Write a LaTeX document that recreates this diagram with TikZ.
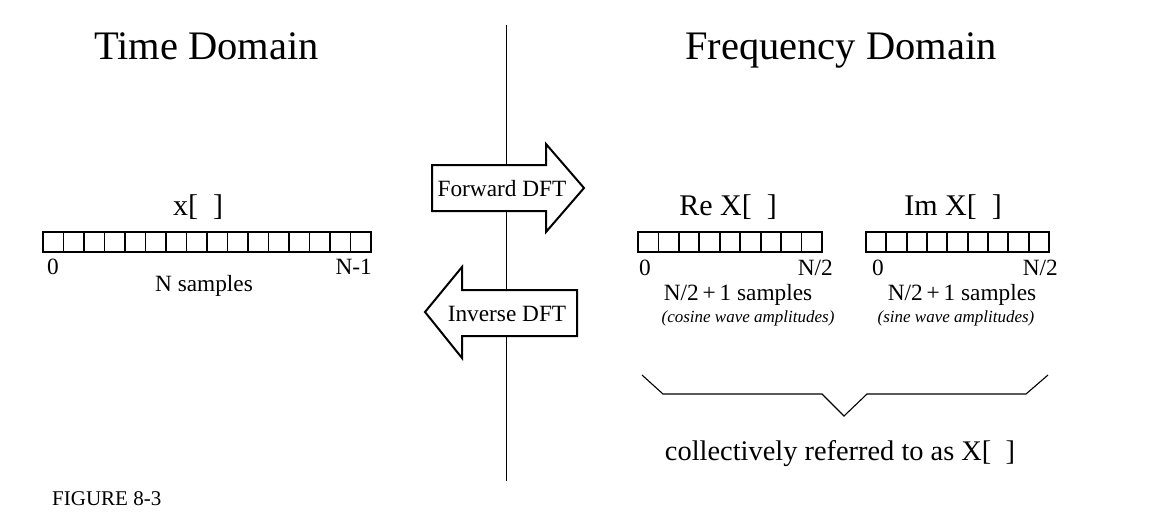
\documentclass[tikz,border=0pt]{standalone}
\usepackage{fontspec}
\setmainfont{Liberation Serif}
\begin{document}
\begin{tikzpicture}[x=1pt,y=-1pt,
  big/.style={font=\fontsize{40.5}{44}\selectfont, anchor=base, inner sep=0pt},
  mid/.style={font=\fontsize{30}{32}\selectfont, anchor=base, inner sep=0pt},
  coll/.style={font=\fontsize{28.4}{32}\selectfont, anchor=base, inner sep=0pt},
  small/.style={font=\fontsize{23.3}{25}\selectfont, anchor=base, inner sep=0pt},
  ital/.style={font=\fontsize{17}{20}\selectfont\itshape, anchor=base, inner sep=0pt},
  figcaption/.style={font=\fontsize{21}{23}\selectfont, anchor=base west, inner sep=0pt},
  cellline/.style={line width=1.8pt},
  bigarrow/.style={line width=2pt, fill=white, line join=miter},
  brace/.style={line width=1.1pt},
  divider/.style={line width=1.4pt}]
\useasboundingbox (0,0) rectangle (1152,512);
% divider
\coordinate (vt) at (506.5,25);
\coordinate (vb) at (506.5,481);
\draw[divider] (vt) -- (vb);
% titles
\node[big] (t1) at (206.5,59) {Time Domain};
\node[big] (t2) at (841,59) {Frequency Domain};
% time bar
\foreach \i in {0,...,15} \draw[cellline] (43+\i*20.5,232) rectangle ++(20.5,20);
\node[mid] (xl) at (198,215) {x[\ \ ]};
\node[small, anchor=base west] (x0) at (47,274) {0};
\node[small, anchor=base east] (xn) at (372,274) {N-1};
\node[small] (xs) at (204,291) {N samples};
% Re bar
\foreach \i in {0,...,8} \draw[cellline] (638+\i*20.44,232) rectangle ++(20.44,20);
\node[mid] (rl) at (728,215) {Re X[\ \ ]};
\node[small, anchor=base west] (r0) at (639,275) {0};
\node[small, anchor=base east] (rn) at (833,275) {N/2};
\node[small] (rs) at (738,300) {N/2\,+\,1 samples};
\node[ital] (rc) at (748,322) {(cosine wave amplitudes)};
% Im bar
\foreach \i in {0,...,8} \draw[cellline] (866+\i*20.33,232) rectangle ++(20.33,20);
\node[mid] (il) at (953,215) {Im X[\ \ ]};
\node[small, anchor=base west] (i0) at (872,275) {0};
\node[small, anchor=base east] (in) at (1058,275) {N/2};
\node[small] (is) at (962,300) {N/2\,+\,1 samples};
\node[ital] (ic) at (956,322) {(sine wave amplitudes)};
% arrows
\draw[bigarrow] (432,165) -- (546,165) -- (546,144) -- (584,188) -- (546,232) -- (546,211) -- (432,211) -- cycle;
\node[small] (fw) at (502,196) {Forward DFT};
\draw[bigarrow] (577,290) -- (462,290) -- (462,267) -- (425,312) -- (462,358) -- (462,336) -- (577,336) -- cycle;
\node[small] (iv) at (507,321) {Inverse DFT};
% brace
\draw[brace] (642,375) -- (663,394) -- (822,394) -- (844,416) -- (867,394) -- (1026,394) -- (1048,375);
\node[coll] (cx) at (840,460) {collectively referred to as X[\ \ ]};
\node[figcaption] (fig) at (52,505) {FIGURE 8-3};
\end{tikzpicture}
\end{document}
